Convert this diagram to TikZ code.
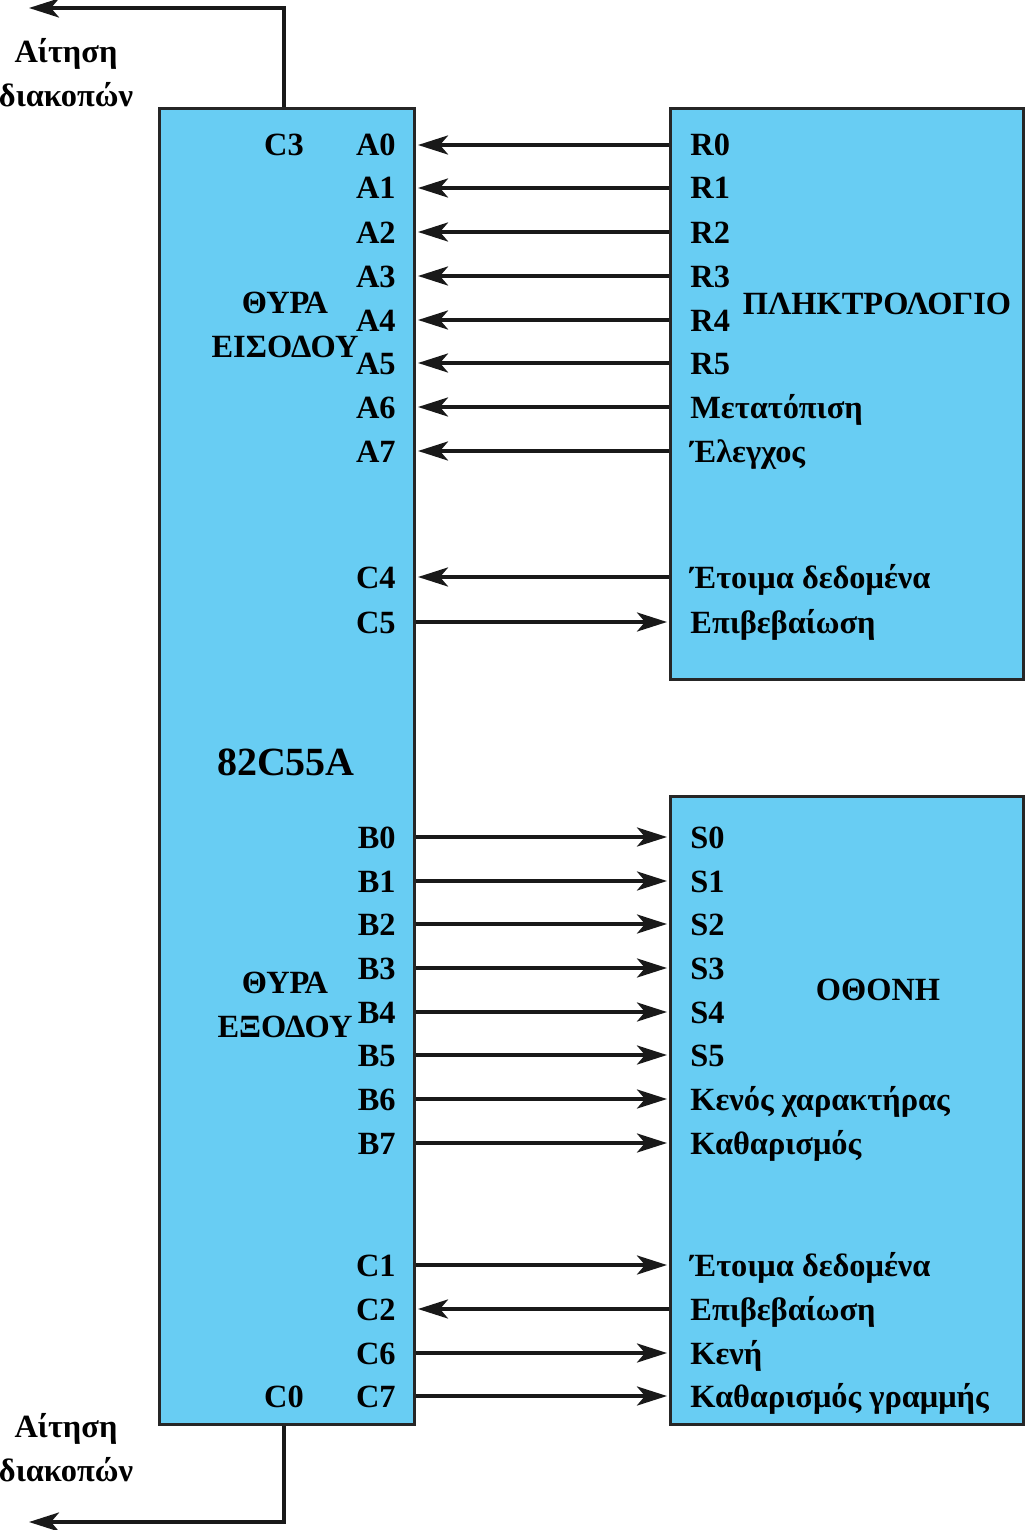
\documentclass[tikz,border=0pt]{standalone}
\usepackage{fontspec}
\setmainfont{Liberation Serif}
\usetikzlibrary{arrows.meta,positioning}
\definecolor{chipblue}{RGB}{104,205,243}
\tikzset{
  chip/.style={rectangle,draw=black!85,line width=1.5pt,fill=chipblue,inner sep=0pt},
  pinl/.style={anchor=east,inner sep=0pt,text height=11pt,text depth=0pt,font=\bfseries\fontsize{16.2}{18}\selectfont},
  pinr/.style={pinl,anchor=west},
  title/.style={align=center,inner sep=0pt,font=\bfseries\fontsize{16.2}{22}\selectfont},
  wire/.style={line width=1.9pt,draw=black!90},
  toppi/.style={wire,{Stealth[length=15pt,width=9.5pt,inset=4pt]}-,shorten <=1pt},
  todev/.style={wire,-{Stealth[length=15pt,width=9.5pt,inset=4pt]},shorten >=1pt}
}

\begin{document}
\begin{tikzpicture}[x=0.5pt,y=-0.5pt]
  \useasboundingbox (0,0) rectangle (1024,1530);
  \node[chip,anchor=north west,minimum width=127.5pt,minimum height=658pt] (ppi) at (158,107) {};
  \node[chip,anchor=north west,minimum width=176.5pt,minimum height=285.5pt] (kbd) at (669,107) {};
  \node[chip,anchor=north west,minimum width=176.5pt,minimum height=314pt] (disp) at (669,795) {};

  \node[title] (inport) at (285,325) {ΘΥΡΑ\\ΕΙΣΟΔΟΥ};
  \node[title] (outport) at (285,1005) {ΘΥΡΑ\\ΕΞΟΔΟΥ};
  \node[title,font=\bfseries\fontsize{20}{22}\selectfont] (chipname) at (286,762) {82C55A};
  \node[title] (kbdname) at (877,304) {ΠΛΗΚΤΡΟΛΟΓΙΟ};
  \node[title] (dispname) at (878,990) {ΟΘΟΝΗ};

  \node[pinl,anchor=center] (pC3) at (284,145) {C3};
  \node[pinl,anchor=center] (pC0) at (284,1396) {C0};

  % keyboard side
  \foreach \pin/\sig/\y/\dir in {A0/R0/145/toppi, A1/R1/188/toppi, A2/R2/232/toppi,
      A3/R3/276/toppi, A4/R4/320/toppi, A5/R5/363/toppi, A6/Μετατόπιση/407/toppi,
      A7/Έλεγχος/451/toppi, C4/Έτοιμα δεδομένα/577/toppi, C5/Επιβεβαίωση/622/todev}{
    \node[pinl] (p\pin) at (396,\y) {\pin};
    \node[pinr] (q\pin) at (690,\y) {\sig};
    \draw[\dir] (p\pin.east -| ppi.east) -- (q\pin.west -| kbd.west);
  }

  % display side
  \foreach \pin/\sig/\y/\dir in {B0/S0/837/todev, B1/S1/881/todev, B2/S2/924/todev,
      B3/S3/968/todev, B4/S4/1012/todev, B5/S5/1055/todev, B6/Κενός χαρακτήρας/1099/todev,
      B7/Καθαρισμός/1143/todev, C1/Έτοιμα δεδομένα/1265/todev, C2/Επιβεβαίωση/1309/toppi,
      C6/Κενή/1353/todev, C7/Καθαρισμός γραμμής/1396/todev}{
    \node[pinl] (p\pin) at (396,\y) {\pin};
    \node[pinr] (q\pin) at (690,\y) {\sig};
    \draw[\dir] (p\pin.east -| ppi.east) -- (q\pin.west -| disp.west);
  }

  % interrupt requests
  \coordinate (irqtop) at (27,8);
  \coordinate (irqbot) at (27,1522);
  \draw[todev] (pC3 |- ppi.north) |- (irqtop);
  \draw[todev] (pC0 |- ppi.south) |- (irqbot);
  \node[title] (irqlabtop) at (66,73) {Αίτηση\\διακοπών};
  \node[title] (irqlabbot) at (66,1448) {Αίτηση\\διακοπών};
\end{tikzpicture}
\end{document}
